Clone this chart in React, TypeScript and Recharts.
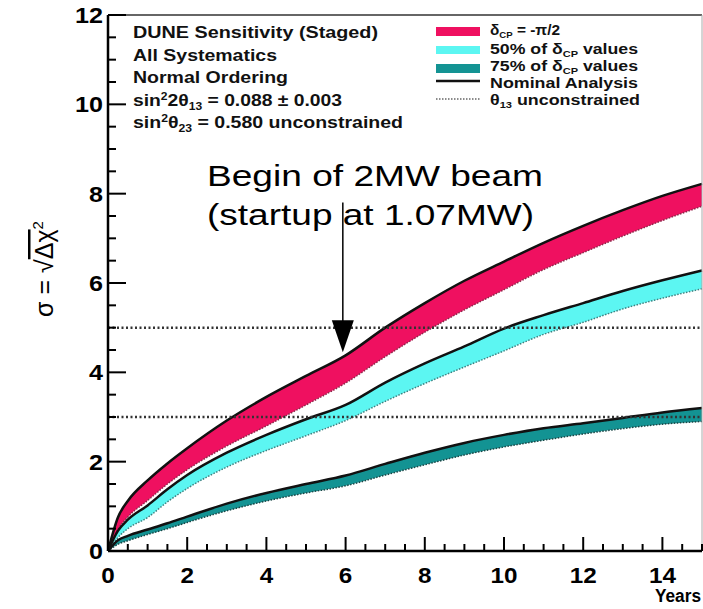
import { ComposedChart, Area, Line, XAxis, YAxis, ReferenceLine } from "recharts";

const years = [0, 0.25, 0.5, 1, 1.5, 2, 3, 4, 5, 6, 7, 8, 9, 10, 11, 12, 13, 14, 15];
const pinkHigh = [0, 0.75, 1.12, 1.58, 1.96, 2.3, 2.92, 3.45, 3.92, 4.38, 5.0, 5.55, 6.05, 6.48, 6.9, 7.28, 7.63, 7.95, 8.22];
const pinkLow = [0, 0.48, 0.76, 1.13, 1.5, 1.82, 2.35, 2.8, 3.27, 3.76, 4.35, 4.9, 5.4, 5.85, 6.3, 6.68, 7.05, 7.4, 7.72];
const cyanHigh = [0, 0.45, 0.7, 1.02, 1.38, 1.7, 2.2, 2.6, 2.95, 3.27, 3.77, 4.2, 4.58, 4.98, 5.28, 5.55, 5.82, 6.06, 6.28];
const cyanLow = [0, 0.3, 0.5, 0.75, 1.1, 1.4, 1.88, 2.25, 2.58, 2.92, 3.35, 3.75, 4.12, 4.48, 4.85, 5.12, 5.42, 5.66, 5.87];
const tealHigh = [0, 0.24, 0.34, 0.48, 0.62, 0.77, 1.06, 1.3, 1.5, 1.69, 1.95, 2.2, 2.42, 2.6, 2.75, 2.86, 2.98, 3.1, 3.2];
const tealLow = [0, 0.15, 0.23, 0.37, 0.5, 0.64, 0.9, 1.12, 1.3, 1.46, 1.7, 1.93, 2.15, 2.33, 2.48, 2.62, 2.74, 2.84, 2.9];

const xMajor = [0, 2, 4, 6, 8, 10, 12, 14];
const yMajor = [0, 2, 4, 6, 8, 10, 12];
const xTicks = Array.from({ length: 31 }, (_, i) => i * 0.5);
const yTicks = Array.from({ length: 25 }, (_, i) => i * 0.5);
const thresholds = [5, 3];

const data = years.map((year, i) => ({
  year,
  pink: [pinkLow[i], pinkHigh[i]],
  cyan: [cyanLow[i], cyanHigh[i]],
  teal: [tealLow[i], tealHigh[i]],
  pinkHigh: pinkHigh[i],
  pinkLow: pinkLow[i],
  cyanHigh: cyanHigh[i],
  cyanLow: cyanLow[i],
  tealHigh: tealHigh[i],
  tealLow: tealLow[i],
}));

const FONT = "'Liberation Sans', Arial, sans-serif";
const PINK = "#ef1060";
const CYAN = "#5cf6f2";
const TEAL = "#139393";

const XTick = (props: any) => {
  const { x, y, payload } = props;
  const v = payload.value;
  const major = xMajor.includes(v);
  return (
    <g>
      <line x1={x} x2={x} y1={y} y2={y - (major ? 14 : 7)} stroke="#000" strokeWidth={2} />
      {major && (
        <text x={x} y={y + 32} textAnchor="middle" fontFamily={FONT} fontWeight="bold" fontSize={22}
          textLength={String(v).length * 13.5} lengthAdjust="spacingAndGlyphs" fill="#000">
          {v}
        </text>
      )}
    </g>
  );
};

const YTick = (props: any) => {
  const { x, y, payload } = props;
  const v = payload.value;
  const major = yMajor.includes(v);
  return (
    <g>
      <line x1={x} x2={x + (major ? 18 : 8)} y1={y} y2={y} stroke="#000" strokeWidth={2} />
      {major && (
        <text x={x - 5} y={y + 8} textAnchor="end" fontFamily={FONT} fontWeight="bold" fontSize={22}
          textLength={String(v).length * 14} lengthAdjust="spacingAndGlyphs" fill="#000">
          {v}
        </text>
      )}
    </g>
  );
};

const Arrow = (props: any) => {
  const { x1, y1, x2, y2 } = props;
  return (
    <g>
      <line x1={x1} y1={y1} x2={x2} y2={y2 - 30} stroke="#000" strokeWidth={1.5} />
      <polygon points={`${x2 - 11},${y2 - 32} ${x2 + 11},${y2 - 32} ${x2},${y2}`} fill="#000" />
    </g>
  );
};

const boxText = { fontFamily: FONT, fontWeight: "bold" as const, fontSize: 16, fill: "#111" };
const legText = { fontFamily: FONT, fontWeight: "bold" as const, fontSize: 14.5, fill: "#111" };

export default function App() {
  return (
    <div style={{ position: "absolute", left: 0, top: 0, width: 703, height: 609, background: "#fff" }}>
      <ComposedChart width={703} height={609} data={data} margin={{ top: 14, right: 0, bottom: 57, left: 107 }}>
        <XAxis dataKey="year" type="number" domain={[0, 15]} ticks={xTicks} interval={0} height={1}
          tickSize={0} tickMargin={0} tickLine={false} tick={<XTick />}
          axisLine={{ stroke: "#000", strokeWidth: 2.5 }} />
        <XAxis xAxisId="top" dataKey="year" orientation="top" type="number" domain={[0, 15]} height={1} tick={false}
          tickLine={false} axisLine={{ stroke: "#666", strokeWidth: 2 }} />
        <YAxis type="number" domain={[0, 12]} ticks={yTicks} interval={0} width={1}
          tickSize={0} tickMargin={0} tickLine={false} tick={<YTick />}
          axisLine={{ stroke: "#000", strokeWidth: 2.5 }} />
        <YAxis yAxisId="right" orientation="right" type="number" domain={[0, 12]} width={1} tick={false}
          tickLine={false} axisLine={{ stroke: "#aaa", strokeWidth: 1 }} />

        <Area type="monotone" dataKey="pink" fill={PINK} fillOpacity={1} stroke="none" isAnimationActive={false} />
        <Area type="monotone" dataKey="cyan" fill={CYAN} fillOpacity={1} stroke="none" isAnimationActive={false} />
        <Area type="monotone" dataKey="teal" fill={TEAL} fillOpacity={1} stroke="none" isAnimationActive={false} />

        <Line type="monotone" dataKey="pinkLow" stroke="#8a2a4a" strokeWidth={1.5} strokeDasharray="1.5 1.5" dot={false} isAnimationActive={false} />
        <Line type="monotone" dataKey="cyanLow" stroke="#3f8080" strokeWidth={1.5} strokeDasharray="1.5 1.5" dot={false} isAnimationActive={false} />
        <Line type="monotone" dataKey="tealLow" stroke="#1a4545" strokeWidth={1.5} strokeDasharray="1.5 1.5" dot={false} isAnimationActive={false} />
        <Line type="monotone" dataKey="pinkHigh" stroke="#111" strokeWidth={2.5} dot={false} isAnimationActive={false} />
        <Line type="monotone" dataKey="cyanHigh" stroke="#111" strokeWidth={2.5} dot={false} isAnimationActive={false} />
        <Line type="monotone" dataKey="tealHigh" stroke="#111" strokeWidth={2.5} dot={false} isAnimationActive={false} />

        {thresholds.map((t) => (
          <ReferenceLine key={t} y={t} stroke="#333" strokeWidth={2.5} strokeDasharray="2 2.5" />
        ))}
        <ReferenceLine segment={[{ x: 5.93, y: 7.8 }, { x: 5.93, y: 4.45 }]} shape={<Arrow />} ifOverflow="visible" />
      </ComposedChart>

      <svg width={703} height={609} style={{ position: "absolute", left: 0, top: 0, pointerEvents: "none" }}>
        {/* info box */}
        <text x={133} y={38} {...boxText} textLength={245} lengthAdjust="spacingAndGlyphs">DUNE Sensitivity (Staged)</text>
        <text x={133} y={61} {...boxText} textLength={144} lengthAdjust="spacingAndGlyphs">All Systematics</text>
        <text x={133} y={83} {...boxText} textLength={155} lengthAdjust="spacingAndGlyphs">Normal Ordering</text>
        <text x={133} y={106} {...boxText} textLength={209} lengthAdjust="spacingAndGlyphs">
          sin<tspan fontSize={10} dy={-6}>2</tspan><tspan dy={6}>2θ</tspan><tspan fontSize={10} dy={4}>13</tspan><tspan dy={-4}> = 0.088 ± 0.003</tspan>
        </text>
        <text x={133} y={128} {...boxText} textLength={270} lengthAdjust="spacingAndGlyphs">
          sin<tspan fontSize={10} dy={-6}>2</tspan><tspan dy={6}>θ</tspan><tspan fontSize={10} dy={4}>23</tspan><tspan dy={-4}> = 0.580 unconstrained</tspan>
        </text>

        {/* legend */}
        <rect x={436} y={27} width={44} height={9} fill={PINK} />
        <rect x={436} y={46} width={44} height={8} fill={CYAN} />
        <rect x={436} y={64} width={44} height={9} fill={TEAL} />
        <line x1={436} x2={480} y1={81} y2={81} stroke="#111" strokeWidth={2.5} />
        <line x1={436} x2={480} y1={99} y2={99} stroke="#666" strokeWidth={1.5} strokeDasharray="1.5 1.5" />
        <text x={490} y={35} {...legText} textLength={70} lengthAdjust="spacingAndGlyphs">
          δ<tspan fontSize={9} dy={3}>CP</tspan><tspan dy={-3}> = -π/2</tspan>
        </text>
        <text x={490} y={54} {...legText} textLength={148} lengthAdjust="spacingAndGlyphs">
          50% of δ<tspan fontSize={9} dy={3}>CP</tspan><tspan dy={-3}> values</tspan>
        </text>
        <text x={490} y={71} {...legText} textLength={148} lengthAdjust="spacingAndGlyphs">
          75% of δ<tspan fontSize={9} dy={3}>CP</tspan><tspan dy={-3}> values</tspan>
        </text>
        <text x={490} y={88} {...legText} textLength={148} lengthAdjust="spacingAndGlyphs">Nominal Analysis</text>
        <text x={490} y={105} {...legText} textLength={150} lengthAdjust="spacingAndGlyphs">
          θ<tspan fontSize={9} dy={3}>13</tspan><tspan dy={-3}> unconstrained</tspan>
        </text>

        {/* annotation */}
        <text x={207} y={186} fontFamily={FONT} fontSize={30} fill="#000" textLength={336} lengthAdjust="spacingAndGlyphs">
          Begin of 2MW beam
        </text>
        <text x={207} y={225} fontFamily={FONT} fontSize={30} fill="#000" textLength={327} lengthAdjust="spacingAndGlyphs">
          (startup at 1.07MW)
        </text>

        {/* axis titles */}
        <text x={655} y={602} fontFamily={FONT} fontWeight="bold" fontSize={18} fill="#000" textLength={46} lengthAdjust="spacingAndGlyphs">
          Years
        </text>
        <text x={53} y={269} transform="rotate(-90, 53, 269)" textAnchor="middle" fontFamily={FONT} fontSize={25} fill="#000">
          σ = √<tspan style={{ textDecoration: "overline" }}>Δχ</tspan><tspan fontSize={15} dy={-10}>2</tspan>
        </text>
      </svg>
    </div>
  );
}
